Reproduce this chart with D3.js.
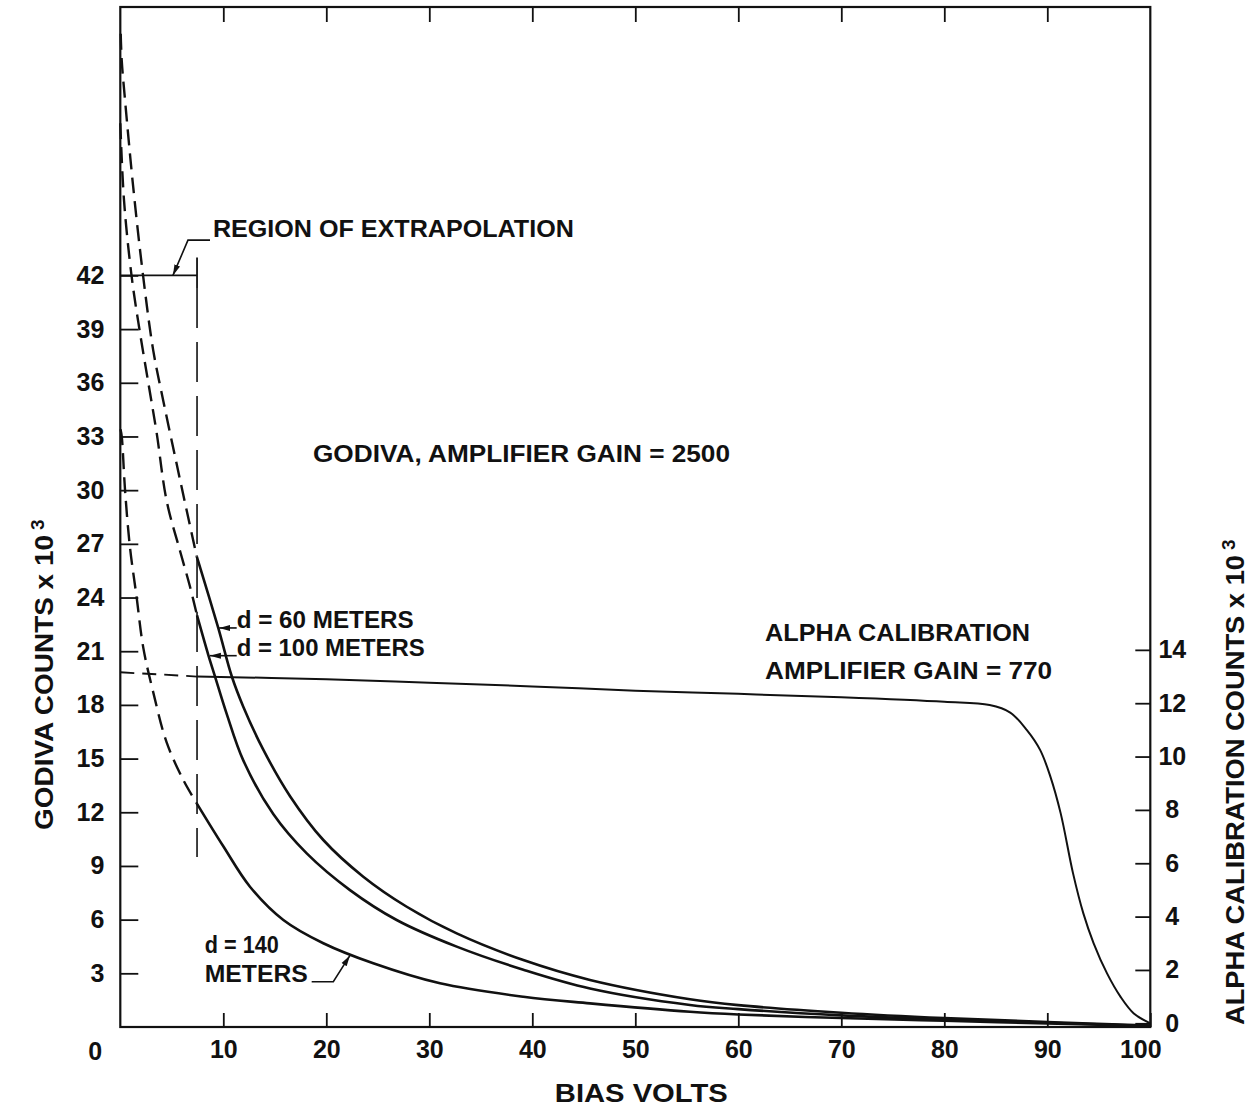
<!DOCTYPE html>
<html lang="en">
<head>
<meta charset="UTF-8">
<title>Godiva counts vs bias volts</title>
<script src="https://d3js.org/d3.v7.min.js"></script>
<style>
body { margin: 0; background: #fff; }
svg { display: block; background: #fff; }
text { font-family: "Liberation Sans", Arial, sans-serif; font-weight: bold; fill: #111; }
</style>
</head>
<body>
<svg id="chart" width="1250" height="1108"></svg>
<script>
const width = 1250, height = 1108;
const plotLeft = 120.3, plotRight = 1150.3, plotTop = 7, plotBottom = 1027;

// [bias volts, counts x 10^3]
const d60Dashed = [[0.04, 55.5], [0.14, 54.0], [0.46, 51.8], [1.26, 46.9], [2.23, 41.9], [3.2, 37.8],
    [4.17, 35.0], [5.31, 31.9], [6.28, 29.3], [7.42, 26.3]];
const d60Solid = [[7.42, 26.3], [9.51, 22.3], [10.82, 19.6], [11.94, 17.9], [13.88, 15.5], [16.48, 12.9],
    [19.71, 10.45], [23.59, 8.4], [27.81, 6.72], [32.66, 5.23], [39.13, 3.74], [45.6, 2.63],
    [55.31, 1.55], [60, 1.22], [70, 0.8], [80, 0.5], [90, 0.28], [100, 0.08]];

const d100Dashed = [[0.0, 50.5], [0.36, 46.2], [1.11, 41.9], [1.91, 38.8], [2.72, 36.0], [3.53, 33.2],
    [4.5, 29.4], [5.8, 26.6], [6.77, 24.6], [7.45, 23.0]];
const d100Solid = [[7.45, 23.0], [8.54, 20.8], [9.19, 19.6], [10.33, 17.5], [11.94, 14.9], [14.85, 11.9],
    [18.1, 9.7], [22.3, 7.65], [26.83, 5.98], [32.66, 4.49], [39.13, 3.2], [45.6, 2.15],
    [55.31, 1.23], [60, 1.0], [70, 0.65], [80, 0.42], [90, 0.24], [100, 0.06]];

const d140Dashed = [[0.02, 33.4], [0.14, 33.0], [0.46, 30.0], [0.94, 26.8], [1.59, 24.0], [2.23, 21.2],
    [3.2, 18.7], [4.5, 15.9], [6.12, 13.8], [7.42, 12.5]];
const d140Solid = [[7.42, 12.5], [10.0, 10.1], [12.59, 7.84], [15.83, 5.98], [19.71, 4.68], [24.56, 3.56],
    [31.04, 2.44], [39.13, 1.69], [45.6, 1.32], [55.31, 0.85], [60, 0.7], [70, 0.5], [80, 0.35],
    [90, 0.2], [100, 0.05]];

// alpha calibration counts x 10^3 (right axis)
const alphaDashed = [[0, 13.16], [7.45, 13.0]];
const alphaSolid = [[7.45, 13.0], [20, 12.9], [30, 12.77], [40, 12.63], [50, 12.47], [60, 12.35],
    [70, 12.22], [80, 12.05], [84.4, 11.93], [86.4, 11.65], [88.0, 11.0], [89.3, 10.25], [90.3, 9.25],
    [91.3, 7.87], [92.5, 5.62], [93.5, 4.12], [94.5, 3.0], [95.8, 1.87], [97.1, 1.0], [98.4, 0.37], [100, 0]];

const biasTicks = [10, 20, 30, 40, 50, 60, 70, 80, 90, 100];
const godivaTicks = [3, 6, 9, 12, 15, 18, 21, 24, 27, 30, 33, 36, 39, 42];
const alphaTicks = [0, 2, 4, 6, 8, 10, 12, 14];

// region of extrapolation: bracket at 42, boundary at 7.45 volts
const regionBracket = [[0, 42], [7.45, 42]];
const regionEnd = [[7.45, 43.0], [7.45, 41.3]];
const regionBoundary = [[7.45, 41.3], [7.45, 9.5]];

const x = d3.scaleLinear().domain([0, 100]).range([plotLeft, plotRight]);
const y = d3.scaleLinear().domain([0, 57]).range([plotBottom, plotTop]);
const yAlpha = d3.scaleLinear().domain([0, 38.1]).range([plotBottom - 3.7, plotTop]);

const svg = d3.select("#chart");

svg.append("defs").append("marker")
    .attr("id", "arrow")
    .attr("markerUnits", "userSpaceOnUse")
    .attr("markerWidth", 12).attr("markerHeight", 8)
    .attr("refX", 11).attr("refY", 4)
    .attr("orient", "auto")
    .append("path").attr("d", "M0,1 L11,4 L0,7 Z").attr("fill", "#111");

// frame
svg.append("rect")
    .attr("x", plotLeft).attr("y", plotTop)
    .attr("width", plotRight - plotLeft).attr("height", plotBottom - plotTop)
    .attr("fill", "none").attr("stroke", "#111").attr("stroke-width", 2.2);

const styleAxis = g => {
    g.select(".domain").remove();
    g.selectAll(".tick line").attr("stroke", "#111").attr("stroke-width", 1.8);
    g.selectAll(".tick text").attr("font-size", 25).attr("fill", "#111")
        .style("font-family", '"Liberation Sans", Arial, sans-serif').style("font-weight", "bold");
};

svg.append("g")
    .attr("transform", `translate(0,${plotBottom})`)
    .call(d3.axisBottom(x).tickValues(biasTicks).tickSize(-14).tickPadding(13))
    .call(styleAxis)
    .call(g => g.selectAll(".tick").filter(d => d === 100).select("text").attr("dx", -10));

svg.append("g")
    .attr("transform", `translate(0,${plotTop})`)
    .call(d3.axisTop(x).tickValues(biasTicks.slice(0, -1)).tickSize(-15).tickFormat(""))
    .call(styleAxis);

svg.append("g")
    .attr("transform", `translate(${plotLeft},0)`)
    .call(d3.axisLeft(y).tickValues(godivaTicks).tickSize(-18).tickPadding(16))
    .call(styleAxis);

svg.append("g")
    .attr("transform", `translate(${plotRight},0)`)
    .call(d3.axisRight(yAlpha).tickValues(alphaTicks).tickSize(-15).tickPadding(22))
    .call(styleAxis)
    .call(g => g.selectAll(".tick text").attr("text-anchor", "middle"));

// shared zero at the corner
svg.append("text")
    .attr("x", x(0) - 25).attr("y", plotBottom + 33)
    .attr("text-anchor", "middle").attr("font-size", 25)
    .text("0");

const smooth = d3.curveCatmullRom.alpha(0.5);
const line = d3.line().x(d => x(d[0])).y(d => y(d[1])).curve(smooth);
const alphaLine = d3.line().x(d => x(d[0])).y(d => yAlpha(d[1])).curve(smooth);
const straight = d3.line().x(d => x(d[0])).y(d => y(d[1]));

[d60Dashed, d100Dashed, d140Dashed].forEach(s => {
    svg.append("path").datum(s)
        .attr("fill", "none").attr("stroke", "#111").attr("stroke-width", 2.4)
        .attr("stroke-dasharray", "16,8")
        .attr("d", line);
});
[d60Solid, d100Solid, d140Solid].forEach(s => {
    svg.append("path").datum(s)
        .attr("fill", "none").attr("stroke", "#111").attr("stroke-width", 2.6)
        .attr("d", line);
});

svg.append("path").datum(alphaDashed)
    .attr("fill", "none").attr("stroke", "#111").attr("stroke-width", 1.8)
    .attr("stroke-dasharray", "14,8")
    .attr("d", alphaLine);
svg.append("path").datum(alphaSolid)
    .attr("fill", "none").attr("stroke", "#111").attr("stroke-width", 2)
    .attr("d", alphaLine);

// region of extrapolation marks
svg.append("path").datum(regionBracket)
    .attr("fill", "none").attr("stroke", "#111").attr("stroke-width", 1.8).attr("d", straight);
svg.append("path").datum(regionEnd)
    .attr("fill", "none").attr("stroke", "#111").attr("stroke-width", 1.8).attr("d", straight);
svg.append("path").datum(regionBoundary)
    .attr("fill", "none").attr("stroke", "#111").attr("stroke-width", 1.6)
    .attr("stroke-dasharray", "40,14").attr("d", straight);

// labels: [text, volts, counts (baseline), width]
const labels = [
    ["REGION OF EXTRAPOLATION", 8.99, 44.15, 361],
    ["GODIVA, AMPLIFIER  GAIN = 2500", 18.71, 31.55, 417],
    ["d = 60 METERS", 11.3, 22.32, 177],
    ["d = 100 METERS", 11.3, 20.76, 188],
    ["ALPHA CALIBRATION", 62.6, 21.56, 265],
    ["AMPLIFIER  GAIN = 770", 62.6, 19.44, 287],
    ["d = 140", 8.2, 4.11, 74],
    ["METERS", 8.2, 2.54, 103]
];
svg.selectAll(".note").data(labels).join("text")
    .attr("class", "note")
    .attr("x", d => x(d[1])).attr("y", d => y(d[2]))
    .attr("font-size", 24)
    .attr("textLength", d => d[3]).attr("lengthAdjust", "spacingAndGlyphs")
    .text(d => d[0]);

// leader lines
const leaders = [
    [[8.71, 43.97], [6.57, 43.97], [5.11, 42.0]],
    [[11.3, 22.3], [9.6, 22.3]],
    [[11.3, 20.75], [8.7, 20.75]],
    [[18.58, 2.53], [20.68, 2.53], [22.3, 4.0]]
];
leaders.forEach(l => {
    svg.append("path").datum(l)
        .attr("fill", "none").attr("stroke", "#111").attr("stroke-width", 1.6)
        .attr("marker-end", "url(#arrow)")
        .attr("d", straight);
});

// axis titles
svg.append("text")
    .attr("x", x(50) + 6).attr("y", 1102)
    .attr("text-anchor", "middle").attr("font-size", 25)
    .attr("textLength", 173).attr("lengthAdjust", "spacingAndGlyphs")
    .text("BIAS VOLTS");

const leftTitle = svg.append("g").attr("transform", "translate(53,830) rotate(-90)");
leftTitle.append("text").attr("x", 0).attr("y", 0).attr("font-size", 25)
    .attr("textLength", 295).attr("lengthAdjust", "spacingAndGlyphs")
    .text("GODIVA  COUNTS x 10");
leftTitle.append("text").attr("x", 300).attr("y", -9).attr("font-size", 19).text("3");

const rightTitle = svg.append("g").attr("transform", "translate(1244,1025) rotate(-90)");
rightTitle.append("text").attr("x", 0).attr("y", 0).attr("font-size", 25)
    .attr("textLength", 470).attr("lengthAdjust", "spacingAndGlyphs")
    .text("ALPHA CALIBRATION  COUNTS x 10");
rightTitle.append("text").attr("x", 475).attr("y", -9).attr("font-size", 19).text("3");
</script>
</body>
</html>
